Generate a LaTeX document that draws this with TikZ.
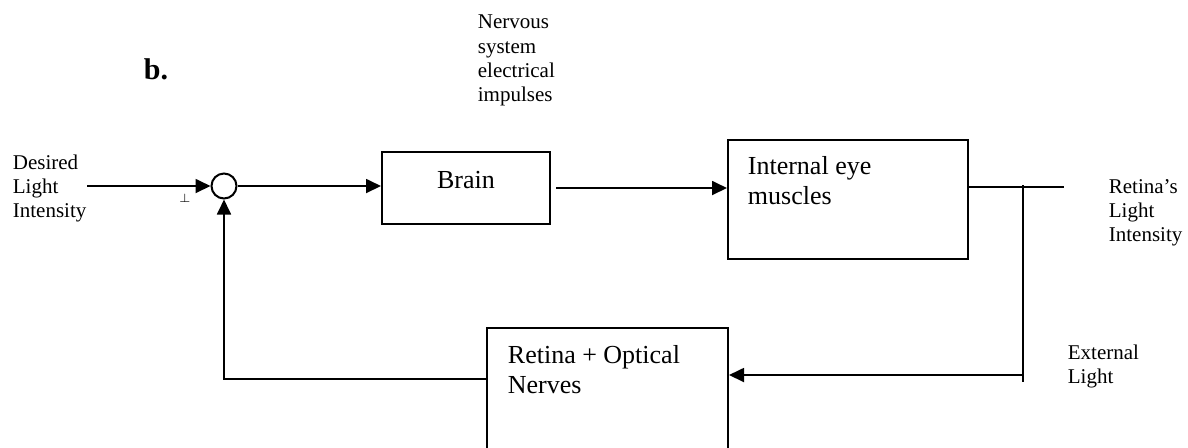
\documentclass[tikz,border=0pt]{standalone}
\usepackage{fontspec}
\setmainfont{Liberation Serif}
\usetikzlibrary{arrows.meta,positioning}
\definecolor{LineClr}{rgb}{0,0,0}

\begin{document}
\begin{tikzpicture}[x=0.5pt,y=-0.5pt,
  line width=0.9pt, color=LineClr,
  blockbox/.style={draw,line width=1pt,inner sep=0pt},
  sumcirc/.style={draw,circle,line width=1pt,minimum size=12.5pt,inner sep=0pt},
  lbl/.style={align=left,inner sep=0pt,anchor=north west,font=\fontsize{10.5}{12}\selectfont},
  blocktxt/.style={align=left,inner sep=0pt,anchor=north west,font=\fontsize{13}{15}\selectfont},
  sig/.style={-{Triangle[length=7.5pt,width=7pt]}}]
\clip (0,0) rectangle (1188,447);

% blocks
\node[sumcirc] (sum) at (224,186) {};
\node[blockbox,minimum width=84pt,minimum height=36pt] (brain) at (466,188) {};
\node[blockbox,minimum width=120pt,minimum height=59.5pt] (iem) at (848,199.5) {};
\node[blockbox,minimum width=120.5pt,minimum height=72pt] (ret) at (607.5,400) {};

% texts
\node[inner sep=0pt,anchor=base,font=\fontsize{13}{15}\selectfont] (braintxt) at (brain.center) {Brain};
\node[blocktxt] (iemtxt) at ([xshift=10pt,yshift=-8.5pt]iem.north west) {Internal eye\\muscles};
\node[blocktxt] (rettxt) at ([xshift=10.5pt,yshift=-9pt]ret.north west) {Retina + Optical\\Nerves};
\node[inner sep=0pt,anchor=base west,font=\fontsize{15}{18}\selectfont\bfseries] (part) at (143,79) {b.};
\node[lbl,font=\fontsize{10.5}{12.2}\selectfont] (nerv) at (477,14) {Nervous\\system\\electrical\\impulses};
\node[lbl] (desired) at (12,154) {Desired\\Light\\Intensity};
\node[lbl] (retlight) at (1108,179) {Retina's\\Light\\Intensity};
\node[lbl] (extlight) at (1067,344) {External\\Light};
\node[inner sep=0pt,font=\fontsize{6}{6}\selectfont] (sign) at (185,198) {$\perp$};

% coordinates
\coordinate (in) at (87,186);
\coordinate (out) at (1064,187);
\coordinate (tap) at (1023,185);
\coordinate (tapbot) at (1023,382);
\coordinate (extin) at (1023,375);
\coordinate (fb) at (224,379);

% connectors
\draw[sig] (in) -- (sum.west);
\draw[sig] (sum.east) -- (sum.east -| brain.west);
\draw[sig,shorten <=2.5pt] (brain.east) -- (iem.west |- brain.east);
\draw (iem.east |- out) -- (out);
\draw (tap) -- (tapbot);
\draw[sig] (extin) -- (extin -| ret.east);
\draw[sig] (fb -| ret.west) -- (fb) -- (sum.south);

\end{tikzpicture}
\end{document}
